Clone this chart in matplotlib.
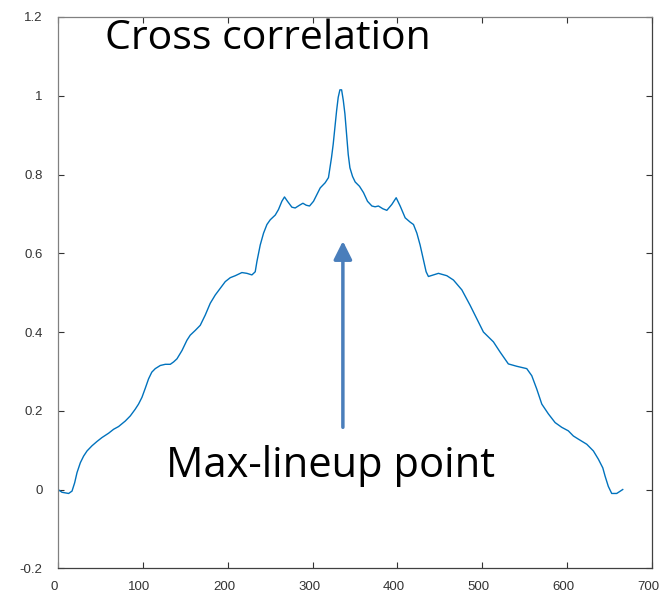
import matplotlib
matplotlib.use("Agg")
import matplotlib.pyplot as plt
from matplotlib.ticker import FormatStrFormatter
from matplotlib.transforms import ScaledTranslation

plt.rcParams['axes.unicode_minus'] = False

# cross correlation curve
lag = [0, 4.7, 12.5, 16.5, 19.6, 22.4, 26.3, 30.2, 34.2, 40.0, 45.9, 51.8, 59.6, 65.5,
       71.4, 79.3, 85.2, 91.0, 94.9, 98.9, 102.8, 106.7, 110.5, 114.6, 120.5, 126.4,
       132.3, 136.2, 140.2, 146.1, 151.9, 155.8, 161.7, 167.6, 173.5, 179.4, 185.3,
       191.2, 197.1, 203.0, 208.9, 216.7, 222.6, 228.5, 232.4, 234.4, 238.3, 242.2,
       246.2, 250.1, 256.0, 259.8, 263.8, 266.9, 270.4, 275.6, 279.5, 284.6, 288.6,
       292.5, 296.4, 301.1, 305.1, 309.0, 314.8, 318.7, 320.4, 322.3, 324.3, 326.3,
       328.3, 330.2, 332.2, 334.2, 336.2, 338.1, 340.1, 342.0, 344.0, 347.1, 350.2,
       355.3, 360.0, 364.7, 369.9, 373.7, 377.6, 382.8, 387.5, 393.4, 398.5, 403.2,
       409.1, 415.0, 418.9, 422.9, 426.7, 430.6, 433.8, 436.5, 442.4, 448.3, 458.2,
       466.0, 475.9, 485.6, 493.5, 501.3, 513.1, 521.0, 530.7, 540.6, 552.4, 558.3,
       564.2, 570.1, 577.9, 585.8, 593.6, 601.4, 607.3, 613.2, 623.1, 630.9, 636.8,
       642.0, 644.7, 648.5, 652.5, 658.4, 665.5]
corr = [0.0, -0.007, -0.010, -0.004, 0.017, 0.043, 0.068, 0.085, 0.098, 0.111, 0.122,
        0.132, 0.143, 0.153, 0.160, 0.174, 0.187, 0.204, 0.217, 0.234, 0.257, 0.281,
        0.298, 0.307, 0.315, 0.318, 0.318, 0.324, 0.332, 0.353, 0.379, 0.392, 0.404,
        0.417, 0.443, 0.473, 0.494, 0.511, 0.528, 0.538, 0.543, 0.551, 0.549, 0.545,
        0.553, 0.579, 0.621, 0.651, 0.673, 0.685, 0.697, 0.711, 0.732, 0.743, 0.732,
        0.717, 0.715, 0.722, 0.727, 0.722, 0.720, 0.732, 0.749, 0.766, 0.779, 0.792,
        0.817, 0.843, 0.877, 0.920, 0.962, 0.996, 1.015, 1.015, 0.988, 0.954, 0.902,
        0.851, 0.817, 0.795, 0.781, 0.770, 0.754, 0.732, 0.720, 0.718, 0.720, 0.713,
        0.709, 0.724, 0.741, 0.720, 0.690, 0.679, 0.673, 0.651, 0.621, 0.583, 0.553,
        0.541, 0.545, 0.549, 0.543, 0.532, 0.507, 0.468, 0.434, 0.400, 0.375, 0.349,
        0.319, 0.313, 0.307, 0.289, 0.255, 0.217, 0.192, 0.170, 0.158, 0.149, 0.136,
        0.128, 0.115, 0.098, 0.077, 0.055, 0.034, 0.008, -0.010, -0.010, 0.0]

x_ticks = [0, 100, 200, 300, 400, 500, 600, 700]
y_ticks = [-0.2, 0, 0.2, 0.4, 0.6, 0.8, 1.0, 1.2]

title_text = "Cross correlation"
note_text = "Max-lineup point"
peak_lag = 335.7
arrow_from, arrow_to = 0.158, 0.631

fig = plt.figure(figsize=(6.6, 5.96), dpi=100)
ax = fig.add_axes([0.0879, 0.0465, 0.9, 0.925])

ax.plot(lag, corr, color='#0072BD', lw=1.0)

ax.set_xlim(0, 700)
ax.set_ylim(-0.2, 1.2)
ax.set_xticks(x_ticks)
ax.set_yticks(y_ticks)
ax.yaxis.set_major_formatter(FormatStrFormatter('%g'))
ax.tick_params(direction='in', length=4, width=0.8, top=True, right=True,
               labelsize=9.5, labelcolor='#333333', color='#333333')
ax.tick_params(axis='y', pad=11)
ax.tick_params(axis='x', pad=9)
for lbl in ax.get_xticklabels() + ax.get_yticklabels():
    lbl.set_family('Liberation Sans')
# the x labels sit a little left of their ticks in the original
shift = ScaledTranslation(-3.5 / 100, 0, fig.dpi_scale_trans)
for lbl in ax.get_xticklabels():
    lbl.set_transform(lbl.get_transform() + shift)
for s in ['left', 'top']:
    ax.spines[s].set_color('#808080')
for s in ['bottom', 'right']:
    ax.spines[s].set_color('#404040')
for s in ax.spines.values():
    s.set_linewidth(0.9)

ax.text(55.4, 1.119, title_text, fontsize=29.5, family='Open Sans', color='black',
        ha='left', va='baseline')
ax.text(127.2, 0.031, note_text, fontsize=30, family='Open Sans', color='black',
        ha='left', va='baseline')

ax.annotate('', xy=(peak_lag, arrow_to), xytext=(peak_lag, arrow_from),
            arrowprops=dict(arrowstyle='-|>,head_length=1.1,head_width=0.55',
                            lw=2.5, color='#4a7ebb', shrinkA=0, shrinkB=0))

fig.savefig('out.png', dpi=100)
